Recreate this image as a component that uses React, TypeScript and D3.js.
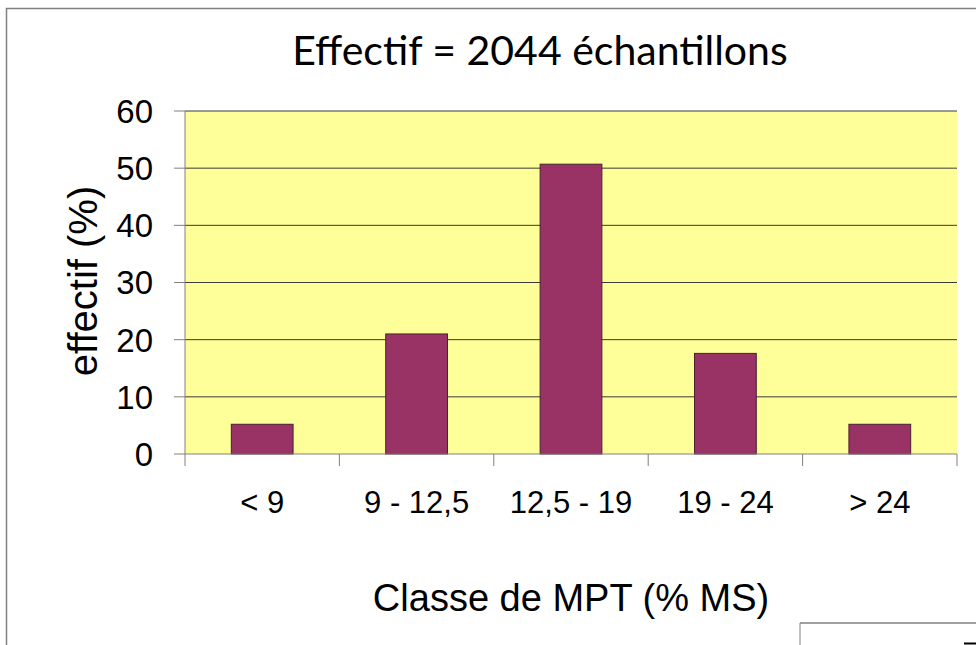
import React from "react";
import * as d3 from "d3";

const categories = ["< 9", "9 - 12,5", "12,5 - 19", "19 - 24", "> 24"];
const values = [5.2, 21.0, 50.7, 17.6, 5.2];
const yTicks = [0, 10, 20, 30, 40, 50, 60];
const titleText = "Effectif = 2044 échantillons";
const yLabel = "effectif (%)";
const xLabel = "Classe de MPT (% MS)";

export default function App() {
  const W = 976, H = 645;
  const left = 185, right = 957, top = 111, bottom = 454;
  const x = d3.scaleBand<string>().domain(categories).range([left, right]).paddingInner(0).paddingOuter(0);
  const y = d3.scaleLinear().domain([0, 60]).range([bottom, top]);
  const barW = x.bandwidth() * 0.4;
  const font = "'Liberation Sans', Arial, sans-serif";
  return (
    <svg width={W} height={H} style={{ position: "absolute", left: 0, top: 0, background: "#fff" }}>
      {/* outer frame */}
      <rect x={6.5} y={8.5} width={1100} height={700} fill="none" stroke="#808080" strokeWidth={1.5} />
      {/* plot area */}
      <rect x={left} y={top} width={right - left} height={bottom - top} fill="#FFFF99" />
      {yTicks.filter(t => t > 0).map(t => (
        <line key={"g" + t} x1={left} x2={right} y1={y(t)} y2={y(t)} stroke="#3a3a3a" strokeWidth={1} />
      ))}
      {categories.map((c, i) => (
        <rect key={c} x={(x(c) as number) + (x.bandwidth() - barW) / 2} y={y(values[i])}
          width={barW} height={bottom - y(values[i])} fill="#993366" stroke="#4a1f33" strokeWidth={1} />
      ))}
      {/* axes */}
      <line x1={left} x2={left} y1={top} y2={bottom} stroke="#808080" strokeWidth={1} />
      <line x1={left} x2={right} y1={bottom} y2={bottom} stroke="#808080" strokeWidth={1} />
      {yTicks.map(t => (
        <g key={"t" + t}>
          <line x1={left - 11} x2={left} y1={y(t)} y2={y(t)} stroke="#808080" strokeWidth={1} />
          <text x={153} y={y(t)} dy="0.36em" textAnchor="end" fontFamily={font} fontSize={33} fill="#000">{t}</text>
        </g>
      ))}
      {[...categories.map(c => x(c) as number), right].map((v, i) => (
        <line key={"xt" + i} x1={v} x2={v} y1={bottom} y2={bottom + 12} stroke="#808080" strokeWidth={1} />
      ))}
      {categories.map(c => (
        <text key={"xl" + c} x={(x(c) as number) + x.bandwidth() / 2} y={513} textAnchor="middle"
          fontFamily={font} fontSize={31} fill="#000">{c}</text>
      ))}
      <text x={540} y={65} textAnchor="middle" fontFamily="Lato, 'Open Sans', sans-serif" fontSize={41} fill="#000">{titleText}</text>
      <text transform="translate(97,281) rotate(-90)" textAnchor="middle" fontFamily={font} fontSize={40} fill="#000">{yLabel}</text>
      <text x={571} y={611} textAnchor="middle" fontFamily={font} fontSize={38} fill="#000">{xLabel}</text>
      {/* partial box bottom right */}
      <line x1={800} x2={976} y1={623} y2={623} stroke="#808080" strokeWidth={1.5} />
      <line x1={800} x2={800} y1={623} y2={645} stroke="#808080" strokeWidth={1} />
      <line x1={964} x2={976} y1={643.5} y2={643.5} stroke="#000" strokeWidth={2} />
    </svg>
  );
}
